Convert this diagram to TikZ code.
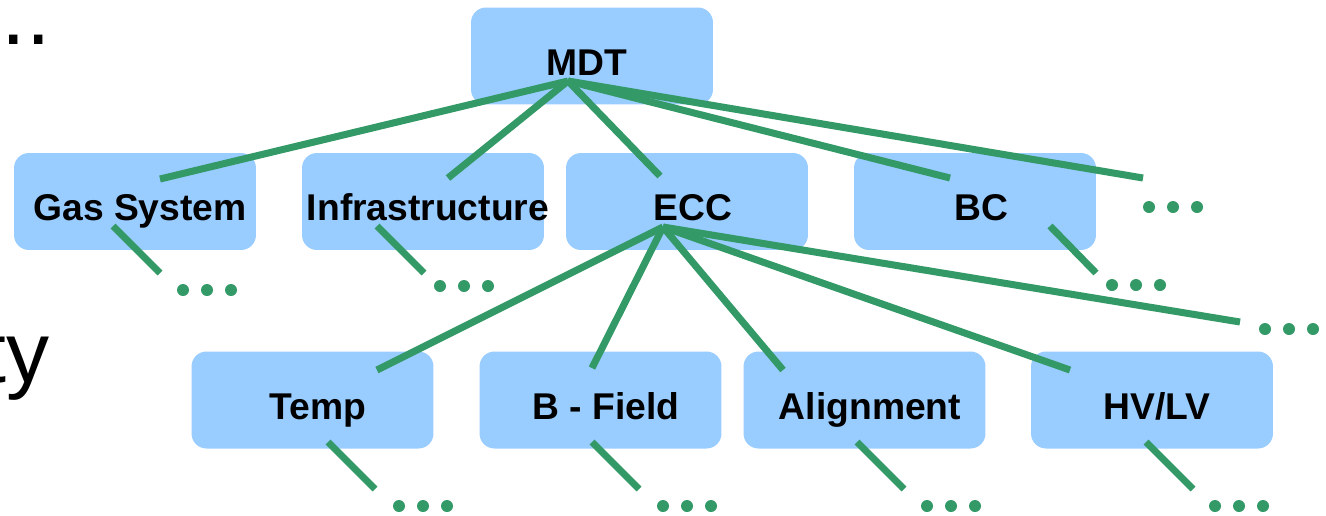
\documentclass[tikz,border=0pt]{standalone}
\usepackage{fontspec}
\setmainfont{Liberation Sans}
\definecolor{boxblue}{HTML}{99CCFF}
\definecolor{lgreen}{HTML}{339966}
\tikzset{
  box/.style={draw=none, fill=boxblue, rounded corners=0.3cm, minimum width=4.84cm, minimum height=1.94cm, inner sep=0pt},
  lbl/.style={anchor=base, inner sep=0pt, font=\bfseries\fontsize{21.2}{24}\selectfont},
  conn/.style={draw=lgreen, line width=4pt},
  dot/.style={circle, fill=lgreen, draw=none, minimum size=0.24cm, inner sep=0pt}
}
\begin{document}
\begin{tikzpicture}[x=0.02cm, y=-0.02cm]
\useasboundingbox (0,0) rectangle (1326,515);
\clip (0,0) rectangle (1326,515);
% cut-off text at left
\node[anchor=base east, inner sep=0pt, font=\fontsize{50}{52}\selectfont] (cutdots) at (51,44) {...};
\node[anchor=base east, inner sep=0pt, font=\fontsize{49}{52}\selectfont] (cutty) at (50,382) {ty};
% boxes
\node[box] (mdt) at (592,56) {};
\node[box] (gas) at (135,201.5) {};
\node[box] (infra) at (423,201.5) {};
\node[box] (ecc) at (687,201.5) {};
\node[box] (bc) at (975,201.5) {};
\node[box] (temp) at (312.5,400) {};
\node[box] (bfield) at (600.5,400) {};
\node[box] (align) at (864.5,400) {};
\node[box] (hvlv) at (1152,400) {};
% labels
\node[lbl] (mdtl) at (587,75) {MDT};
\node[lbl] (gasl) at (140,220) {Gas System};
\node[lbl] (infral) at (428,220) {Infrastructure};
\node[lbl] (eccl) at (693,220) {ECC};
\node[lbl] (bcl) at (981,220) {BC};
\node[lbl] (templ) at (318,419) {Temp};
\node[lbl] (bfieldl) at (606,419) {B - Field};
\node[lbl] (alignl) at (870,419) {Alignment};
\node[lbl] (hvlvl) at (1157,419) {HV/LV};
% hubs and ends
\coordinate (mhub) at (568,81);
\coordinate (egas) at (160,179);
\coordinate (einfra) at (448,178);
\coordinate (eecc) at (660,176);
\coordinate (ebc) at (950,178);
\coordinate (emore) at (1143,178);
\coordinate (ehub) at (663,227);
\coordinate (etemp) at (377,370);
\coordinate (ebf) at (592,368);
\coordinate (eal) at (783,370);
\coordinate (ehv) at (1070,370);
\coordinate (emore2) at (1240,322);
% stubs
\coordinate (sgas1) at (113,226); \coordinate (sgas2) at (160,273);
\coordinate (sinf1) at (377,226); \coordinate (sinf2) at (424,273);
\coordinate (sbc1) at (1050,226); \coordinate (sbc2) at (1096,273);
\coordinate (stemp1) at (328,442); \coordinate (stemp2) at (375,489);
\coordinate (sbf1) at (592,442); \coordinate (sbf2) at (639,489);
\coordinate (sal1) at (857,442); \coordinate (sal2) at (904,489);
\coordinate (shv1) at (1146,442); \coordinate (shv2) at (1193,489);
% connectors
\foreach \e in {egas,einfra,eecc,ebc,emore} \draw[conn] (mhub) -- (\e);
\foreach \e in {etemp,ebf,eal,ehv,emore2} \draw[conn] (ehub) -- (\e);
\foreach \s in {sgas,sinf,sbc,stemp,sbf,sal,shv} \draw[conn] (\s1) -- (\s2);
% dots
\foreach \n/\x/\y in {a/1149/207, b/1265/329, c/183/290, d/440/286, e/1112/285, f/399/506, g/663/506, h/927/506, i/1215/506} {
  \foreach \k in {0,1,2} \node[dot] (dot\n\k) at (\x+24*\k,\y) {};
}
\end{tikzpicture}
\end{document}
